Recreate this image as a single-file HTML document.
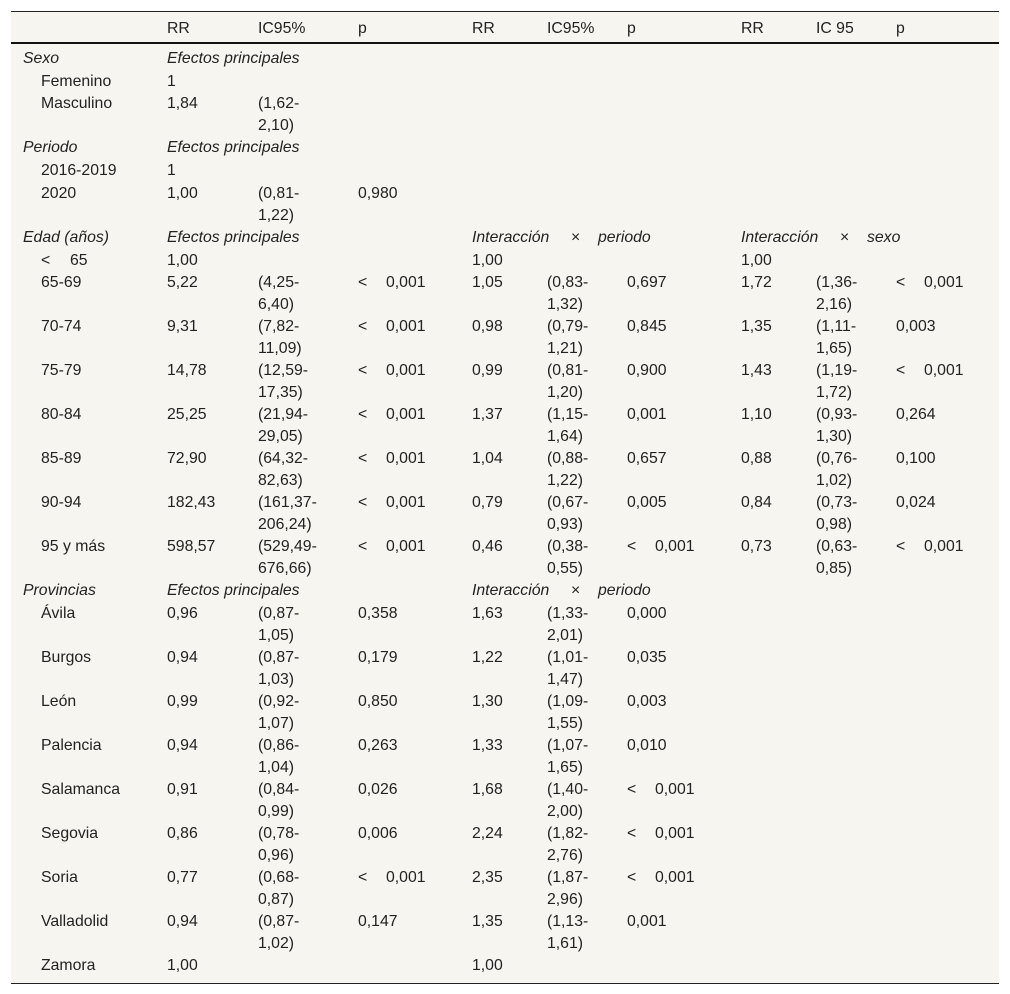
<!DOCTYPE html>
<html><head><meta charset="utf-8">
<style>
body{margin:0;background:#fff;width:1010px;height:994px;position:relative;overflow:hidden;font-family:"Liberation Sans",Arial,sans-serif;font-size:15.8px;color:#222}
#tbl{position:absolute;left:11px;top:11px;width:988px;height:971px;background:#f7f5f0;border-top:1px solid #222;border-bottom:1px solid #222}
#hline{position:absolute;left:11px;top:42px;width:988px;height:2px;background:#111}
.t{position:absolute;line-height:22px;white-space:nowrap}
.i{font-style:italic}
</style></head><body>
<div id="tbl"></div>
<div id="hline"></div>
<div id="root"></div>
<script>
const colX=[167,258,358,472,547,627,741,816,896];
const headers=["RR","IC95%","p","RR","IC95%","p","RR","IC 95","p"];
const rows=[
["Sexo","group",0,["~Efectos principales"]],
["Femenino","sub",0,["1"]],
["Masculino","sub",1,["1,84","(1,62-|2,10)"]],
["Periodo","group",0,["~Efectos principales"]],
["2016-2019","sub",0,["1"]],
["2020","sub",1,["1,00","(0,81-|1,22)","0,980"]],
["Edad (años)","group",0,["~Efectos principales","","","^periodo","","","^sexo"]],
["<65","sub",0,["1,00","","","1,00","","","1,00"]],
["65-69","sub",1,["5,22","(4,25-|6,40)","<0,001","1,05","(0,83-|1,32)","0,697","1,72","(1,36-|2,16)","<0,001"]],
["70-74","sub",1,["9,31","(7,82-|11,09)","<0,001","0,98","(0,79-|1,21)","0,845","1,35","(1,11-|1,65)","0,003"]],
["75-79","sub",1,["14,78","(12,59-|17,35)","<0,001","0,99","(0,81-|1,20)","0,900","1,43","(1,19-|1,72)","<0,001"]],
["80-84","sub",1,["25,25","(21,94-|29,05)","<0,001","1,37","(1,15-|1,64)","0,001","1,10","(0,93-|1,30)","0,264"]],
["85-89","sub",1,["72,90","(64,32-|82,63)","<0,001","1,04","(0,88-|1,22)","0,657","0,88","(0,76-|1,02)","0,100"]],
["90-94","sub",1,["182,43","(161,37-|206,24)","<0,001","0,79","(0,67-|0,93)","0,005","0,84","(0,73-|0,98)","0,024"]],
["95 y más","sub",1,["598,57","(529,49-|676,66)","<0,001","0,46","(0,38-|0,55)","<0,001","0,73","(0,63-|0,85)","<0,001"]],
["Provincias","group",0,["~Efectos principales","","","^periodo"]],
["Ávila","sub",1,["0,96","(0,87-|1,05)","0,358","1,63","(1,33-|2,01)","0,000"]],
["Burgos","sub",1,["0,94","(0,87-|1,03)","0,179","1,22","(1,01-|1,47)","0,035"]],
["León","sub",1,["0,99","(0,92-|1,07)","0,850","1,30","(1,09-|1,55)","0,003"]],
["Palencia","sub",1,["0,94","(0,86-|1,04)","0,263","1,33","(1,07-|1,65)","0,010"]],
["Salamanca","sub",1,["0,91","(0,84-|0,99)","0,026","1,68","(1,40-|2,00)","<0,001"]],
["Segovia","sub",1,["0,86","(0,78-|0,96)","0,006","2,24","(1,82-|2,76)","<0,001"]],
["Soria","sub",1,["0,77","(0,68-|0,87)","<0,001","2,35","(1,87-|2,96)","<0,001"]],
["Valladolid","sub",1,["0,94","(0,87-|1,02)","0,147","1,35","(1,13-|1,61)","0,001"]],
["Zamora","sub",0,["1,00","","","1,00"]]
];
const root=document.getElementById('root');
function txt(x,y,s,cls,name){
  const e=document.createElement('div');
  e.className='t'+(cls?' '+cls:'');
  e.style.left=x+'px';e.style.top=y+'px';
  e.innerHTML=s;
  
  
  root.appendChild(e);
}
headers.forEach((h,i)=>txt(colX[i],18,h,'', 'column-header'));
let y=48;
rows.forEach(r=>{
  const [label,type,dbl,cells]=r;
  if(type==='group') txt(23,y,label,'i','row-group-label');
  else if(label==='<65'){txt(41,y,'&lt;','', 'row-label');txt(70,y,'65','', 'row-label');}
  else txt(41,y,label,'', 'row-label');
  cells.forEach((c,i)=>{
    if(!c) return;
    const x=colX[i];
    if(c[0]==='~') txt(x,y,c.slice(1),'i','section-title');
    else if(c[0]==='^'){
      txt(x,y,'Interacción','i','interaction-title');
      txt(x+99,y,'×','', 'interaction-symbol');
      txt(x+126,y,c.slice(1),'i','interaction-title');
    }
    else if(c[0]==='<'){
      txt(x,y,'&lt;','', 'p-value');
      txt(x+28,y,c.slice(1),'', 'p-value');
    }
    else if(c.indexOf('|')>=0){
      const p=c.split('|');
      txt(x,y,p[0],'', 'ci-value');
      txt(x,y+22,p[1],'', 'ci-value');
    }
    else txt(x,y,c,'', 'cell-value');
  });
  y+=dbl?44:22.7;
});
</script>
</body></html>
